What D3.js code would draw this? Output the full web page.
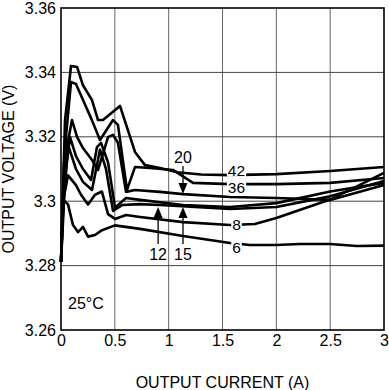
<!DOCTYPE html>
<html>
<head>
<meta charset="utf-8">
<script src="https://cdn.jsdelivr.net/npm/d3@7.9.0/dist/d3.min.js"></script>
<style>
  body { margin: 0; background: #fff; }
  svg text { font-family: "Liberation Sans", Arial, sans-serif; fill: #000; }
</style>
</head>
<body>
<div id="chart"></div>
<script>
// output current (A) / output voltage (V), one array per input voltage
const vin42 = [[0,3.2811],[0.037,3.325],[0.093,3.3420],[0.149,3.3417],[0.204,3.336],[0.288,3.3314],[0.344,3.3252],[0.39,3.3252],[0.548,3.3296],[0.687,3.3153],[0.78,3.3112],[0.919,3.3103],[1.08,3.3090],[1.3,3.3083],[1.57,3.3081],[2.0,3.3084],[2.5,3.3094],[3.0,3.3106]];
const vin36 = [[0,3.2811],[0.046,3.320],[0.093,3.3370],[0.139,3.3364],[0.176,3.3336],[0.279,3.3258],[0.362,3.319],[0.483,3.3252],[0.529,3.3237],[0.613,3.3035],[0.687,3.3106],[0.827,3.3103],[1.04,3.3097],[1.226,3.3057],[1.57,3.3053],[2.0,3.3053],[2.5,3.3057],[3.0,3.3072]];
const vin20 = [[0,3.2811],[0.028,3.312],[0.102,3.3252],[0.149,3.320],[0.204,3.3165],[0.288,3.3128],[0.344,3.3097],[0.437,3.3199],[0.483,3.3206],[0.529,3.3181],[0.604,3.3029],[0.687,3.3035],[0.919,3.3029],[1.133,3.3022],[1.57,3.3013],[2.0,3.3010],[2.5,3.3004],[3.0,3.3050]];
const vin15 = [[0,3.2811],[0.028,3.305],[0.084,3.3199],[0.139,3.314],[0.204,3.310],[0.279,3.3066],[0.334,3.3168],[0.372,3.3181],[0.437,3.312],[0.502,3.298],[0.604,3.3010],[0.734,3.3004],[1.133,3.2988],[1.57,3.2982],[2.0,3.2994],[2.5,3.3030],[3.0,3.3057]];
const vin12 = [[0,3.2811],[0.028,3.300],[0.065,3.3175],[0.139,3.310],[0.204,3.3060],[0.288,3.3035],[0.362,3.316],[0.418,3.310],[0.483,3.297],[0.567,3.2988],[0.734,3.2991],[0.919,3.2988],[1.57,3.2976],[2.0,3.2982],[2.5,3.3015],[3.0,3.3063]];
const vin8 = [[0,3.2811],[0.019,3.300],[0.065,3.3080],[0.139,3.3050],[0.186,3.3020],[0.251,3.2990],[0.316,3.302],[0.38,3.303],[0.437,3.2960],[0.502,3.2945],[0.604,3.2957],[0.734,3.2951],[1.133,3.2935],[1.57,3.2926],[1.8,3.2929],[2.0,3.2948],[2.5,3.3005],[3.0,3.3088]];
const vin6 = [[0,3.2811],[0.019,3.3005],[0.065,3.2990],[0.111,3.2926],[0.158,3.2904],[0.204,3.2920],[0.251,3.2890],[0.316,3.2895],[0.381,3.2910],[0.5,3.2925],[0.734,3.2914],[1.133,3.2892],[1.57,3.2870],[1.755,3.2864],[2.0,3.2864],[2.22,3.2867],[2.498,3.2867],[2.749,3.2861],[3.0,3.2862]];

const series = [vin42, vin36, vin20, vin15, vin12, vin8, vin6];

const xTicks = [0, 0.5, 1, 1.5, 2, 2.5, 3];
const yTicks = [3.26, 3.28, 3.30, 3.32, 3.34, 3.36];

// labels sitting on a curve (white box behind)
const onLineLabels = [
  { text: '42', x: 1.63, y: 3.3096 },
  { text: '36', x: 1.63, y: 3.3042 },
  { text: '8', x: 1.63, y: 3.2927 },
  { text: '6', x: 1.63, y: 3.2857 },
];
// arrow labels: text position and arrow tip
const arrowLabels = [
  { text: '20', x: 1.133, y: 3.3137, tipY: 3.3022, dir: 'down' },
  { text: '12', x: 0.902, y: 3.2836, tipY: 3.2982, dir: 'up' },
  { text: '15', x: 1.133, y: 3.2836, tipY: 3.2982, dir: 'up' },
];

const width = 389;
const height = 390;
const margin = { top: 8, right: 5, bottom: 60, left: 61 };

const svg = d3.select('#chart')
  .append('svg')
  .attr('width', width)
  .attr('height', height);

const xScale = d3.scaleLinear().domain([0, 3]).range([margin.left, width - margin.right]);
const yScale = d3.scaleLinear().domain([3.26, 3.36]).range([height - margin.bottom, margin.top]);

// gridlines
svg.append('g')
  .selectAll('line')
  .data(xTicks.slice(1, -1))
  .join('line')
  .attr('x1', d => xScale(d)).attr('x2', d => xScale(d))
  .attr('y1', yScale(3.26)).attr('y2', yScale(3.36))
  .attr('stroke', '#666').attr('stroke-width', 1);

svg.append('g')
  .selectAll('line')
  .data(yTicks.slice(1, -1))
  .join('line')
  .attr('x1', xScale(0)).attr('x2', xScale(3))
  .attr('y1', d => yScale(d)).attr('y2', d => yScale(d))
  .attr('stroke', '#444').attr('stroke-width', 1);

// curves
const line = d3.line().x(d => xScale(d[0])).y(d => yScale(d[1]));
svg.append('g')
  .selectAll('path')
  .data(series)
  .join('path')
  .attr('d', line)
  .attr('fill', 'none')
  .attr('stroke', '#000')
  .attr('stroke-width', 2.6)
  .attr('stroke-linejoin', 'round');

// frame
svg.append('rect')
  .attr('x', xScale(0)).attr('y', yScale(3.36))
  .attr('width', xScale(3) - xScale(0))
  .attr('height', yScale(3.26) - yScale(3.36))
  .attr('fill', 'none').attr('stroke', '#000').attr('stroke-width', 1.6);

// axes (labels only)
const xAxis = svg.append('g')
  .attr('transform', `translate(0, ${yScale(3.26)})`)
  .call(d3.axisBottom(xScale).tickValues(xTicks).tickSize(0).tickPadding(5).tickFormat(d => String(d)));
const yAxis = svg.append('g')
  .attr('transform', `translate(${xScale(0)}, 0)`)
  .call(d3.axisLeft(yScale).tickValues(yTicks).tickSize(0).tickPadding(5).tickFormat(d => String(+d.toFixed(2))));
[xAxis, yAxis].forEach(a => {
  a.select('.domain').remove();
  a.selectAll('text').attr('font-size', 16).attr('font-family', '"Liberation Sans", Arial, sans-serif').attr('fill', '#000');
});

// axis titles
svg.append('text')
  .attr('x', (xScale(0) + xScale(3)) / 2)
  .attr('y', 388)
  .attr('text-anchor', 'middle')
  .attr('font-size', 16)
  .text('OUTPUT CURRENT (A)');

svg.append('text')
  .attr('transform', `translate(14, ${(yScale(3.26) + yScale(3.36)) / 2}) rotate(-90)`)
  .attr('text-anchor', 'middle')
  .attr('font-size', 16)
  .text('OUTPUT VOLTAGE (V)');

// temperature note
svg.append('text')
  .attr('x', xScale(0) + 7)
  .attr('y', yScale(3.2665))
  .attr('font-size', 16)
  .text('25°C');

// on-line labels
const lab = svg.append('g');
onLineLabels.forEach(l => {
  const t = lab.append('text')
    .attr('x', xScale(l.x))
    .attr('y', yScale(l.y))
    .attr('text-anchor', 'middle')
    .attr('dominant-baseline', 'central')
    .attr('font-size', 15.5)
    .text(l.text);
  const bb = t.node().getBBox();
  lab.insert('rect', 'text')
    .attr('x', bb.x - 1).attr('y', bb.y + 2)
    .attr('width', bb.width + 2).attr('height', bb.height - 4)
    .attr('fill', '#fff');
});

// arrow labels
arrowLabels.forEach(l => {
  const x = xScale(l.x);
  const ty = yScale(l.y);
  const tip = yScale(l.tipY);
  svg.append('text')
    .attr('x', x).attr('y', ty)
    .attr('text-anchor', 'middle')
    .attr('dominant-baseline', 'central')
    .attr('font-size', 16)
    .text(l.text);
  const s = l.dir === 'down' ? -1 : 1; // direction from tip back toward text
  const start = l.dir === 'down' ? ty + 9 : ty - 10;
  svg.append('line')
    .attr('x1', x).attr('x2', x)
    .attr('y1', start).attr('y2', tip + s * 8)
    .attr('stroke', '#000').attr('stroke-width', 1.3);
  svg.append('path')
    .attr('d', `M${x},${tip} L${x - 4.5},${tip + s * 11} L${x + 4.5},${tip + s * 11} Z`)
    .attr('fill', '#000');
});
</script>
</body>
</html>
